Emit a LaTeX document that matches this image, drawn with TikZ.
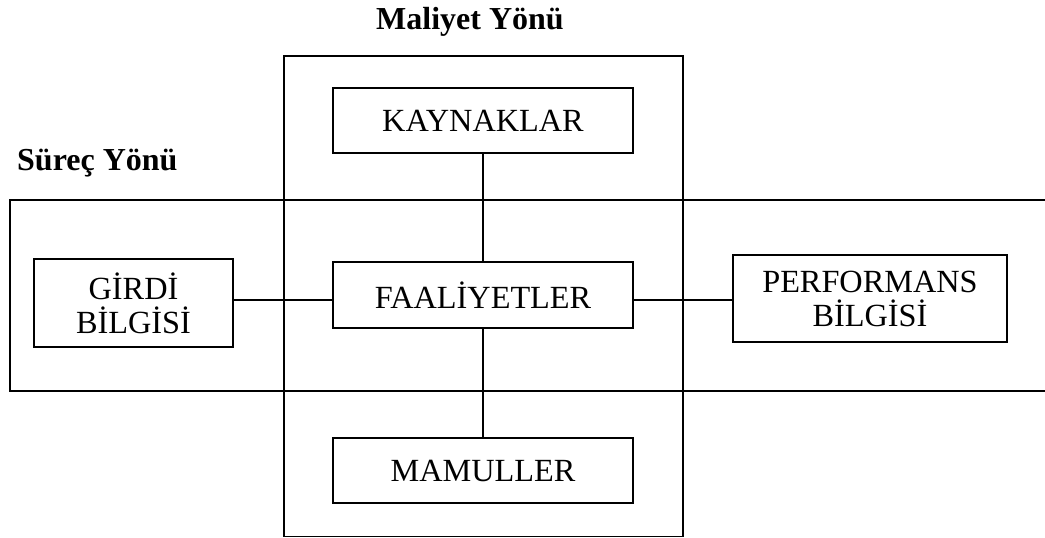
\documentclass[tikz,border=0pt]{standalone}
\usepackage{fontspec}
\setmainfont{Liberation Serif}
\begin{document}
\begin{tikzpicture}[x=1pt,y=-1pt,
  frame/.style={draw,line width=1.9pt},
  box/.style={draw,line width=1.9pt,inner sep=0pt,align=center,font=\fontsize{32.3}{34}\selectfont},
  title/.style={inner sep=0pt,font=\fontsize{32}{36}\selectfont\bfseries},
  link/.style={line width=1.9pt}]
\useasboundingbox (0,0) rectangle (1045,538);
% frames
\draw[frame] (1045,200) -- (10,200) -- (10,391) -- (1045,391);
\draw[frame] (284,56) rectangle (683,536.5);
% titles
\node[title,anchor=base] (maliyet) at (470,30) {Maliyet Yönü};
\node[title,anchor=base west] (surec) at (17,170) {Süreç Yönü};
% boxes
\node[box,minimum width=300,minimum height=65] (kay) at (483,120.5) {KAYNAKLAR};
\node[box,minimum width=300,minimum height=66] (faa) at (483,295) {FAALİYETLER};
\node[box,minimum width=300,minimum height=65] (mam) at (483,470.5) {MAMULLER};
\node[box,minimum width=199,minimum height=88] (gir) at (133.5,303) {GİRDİ\\BİLGİSİ};
\node[box,minimum width=274,minimum height=87] (per) at (870,298.5) {PERFORMANS\\BİLGİSİ};
\coordinate (lk) at (0,300);
% links
\draw[link] (kay) -- (faa);
\draw[link] (faa) -- (mam);
\draw[link] (gir.east |- lk) -- (faa.west |- lk);
\draw[link] (faa.east |- lk) -- (per.west |- lk);
\end{tikzpicture}
\end{document}
